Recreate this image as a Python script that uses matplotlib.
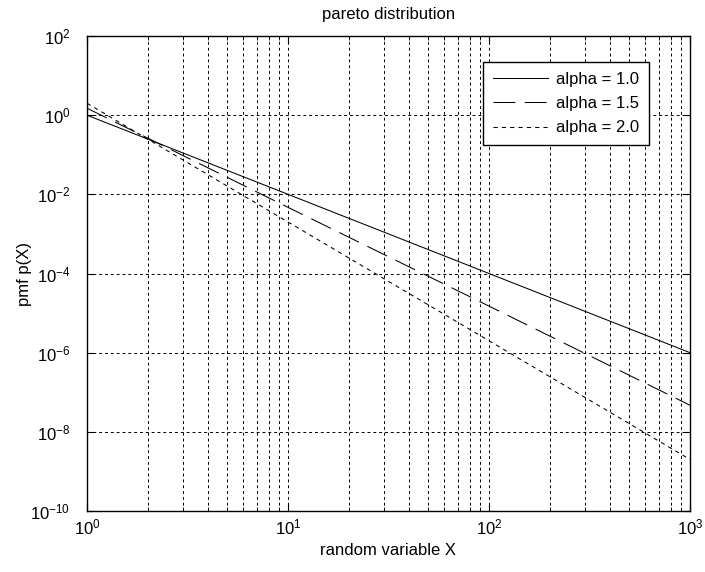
import matplotlib
matplotlib.use("Agg")
import matplotlib.pyplot as plt
import numpy as np

# values (straight lines on log-log axes)
x = [1, 10, 100, 1000]
p_a10 = [1.0, 1.0e-2, 1.0e-4, 1.0e-6]
p_a15 = [1.5, 4.7e-3, 1.5e-5, 4.7e-8]
p_a20 = [2.0, 2.0e-3, 2.0e-6, 2.0e-9]
labels = ['alpha = 1.0', 'alpha = 1.5', 'alpha = 2.0']
yticks = [1e-10, 1e-8, 1e-6, 1e-4, 1e-2, 1e0, 1e2]

plt.rcParams['font.family'] = ['Liberation Sans', 'DejaVu Sans']
plt.rcParams['font.size'] = 12
plt.rcParams['axes.unicode_minus'] = False

fig = plt.figure(figsize=(7.05, 5.72), dpi=100)
ax = fig.add_axes([87/705, 1 - 511/572, (690-87)/705, (511-36)/572])

ax.loglog(x, p_a10, color='black', lw=0.75, label=labels[0])
ax.loglog(x, p_a15, color='black', lw=0.75, dashes=(21, 9), label=labels[1])
ax.loglog(x, p_a20, color='black', lw=0.75, dashes=(4, 4), label=labels[2])

ax.set_xlim(1, 1000)
ax.set_ylim(1e-10, 1e2)
ax.set_yticks(yticks)
ax.yaxis.set_minor_locator(matplotlib.ticker.NullLocator())
ax.xaxis.set_minor_formatter(matplotlib.ticker.NullFormatter())

ax.grid(True, which='both', color='black', linestyle=(0, (3, 3)), lw=0.7)
ax.tick_params(which='both', direction='in', top=True, right=True, labelsize=12)
ax.tick_params(which='major', length=5)
ax.tick_params(which='minor', length=3)
ax.tick_params(axis='y', pad=12)
ax.tick_params(axis='x', pad=5)
for s in ax.spines.values():
    s.set_linewidth(1.0)

ax.set_title('pareto distribution', fontsize=12, pad=12)
ax.set_xlabel('random variable X', fontsize=12, labelpad=4)
ax.set_ylabel('pmf p(X)', fontsize=12, labelpad=-1)

leg = ax.legend(loc='upper right', bbox_to_anchor=(0.932, 0.945), fancybox=False,
                framealpha=1, edgecolor='black', handlelength=3.3, fontsize=12,
                borderaxespad=0, labelspacing=0.55, borderpad=0.6, handletextpad=0.5)
leg.get_frame().set_linewidth(1.0)

fig.savefig('out.png', dpi=100)
